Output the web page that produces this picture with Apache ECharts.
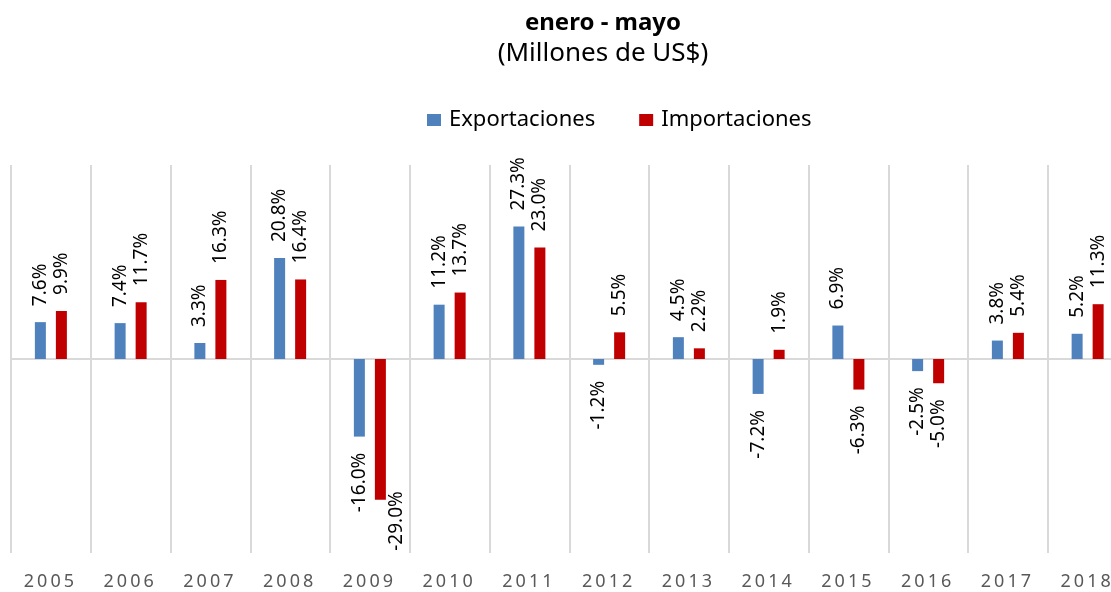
<!DOCTYPE html>
<html>
<head>
<meta charset="utf-8">
<script src="https://cdn.jsdelivr.net/npm/echarts@6/dist/echarts.min.js"></script>
<style>
html,body{margin:0;padding:0;background:#fff;}
#chart{width:1111px;height:592px;}
</style>
</head>
<body>
<div id="chart"></div>
<script>
const categories = ['2005','2006','2007','2008','2009','2010','2011','2012','2013','2014','2015','2016','2017','2018'];
const exportaciones = [7.6, 7.4, 3.3, 20.8, -16.0, 11.2, 27.3, -1.2, 4.5, -7.2, 6.9, -2.5, 3.8, 5.2];
const importaciones = [9.9, 11.7, 16.3, 16.4, -29.0, 13.7, 23.0, 5.5, 2.2, 1.9, -6.3, -5.0, 5.4, 11.3];
const titleText = 'enero - mayo';
const subtitleText = '(Millones de US$)';
const seriesNames = ['Exportaciones', 'Importaciones'];

const FONT = 'Noto Sans';

function toData(arr) {
  return arr.map(v => {
    let label;
    if (v >= 0) {
      label = { position: 'top', align: 'left' };
    } else if (v > -25) {
      label = { position: 'bottom', align: 'right' };
    } else {
      // label would leave the plot: set beside the bar end, as in the reference
      label = { position: ['200%', '94%'], align: 'right' };
    }
    return { value: v, label: label };
  });
}

const labelBase = {
  show: true,
  rotate: 90,
  distance: 16,
  verticalAlign: 'middle',
  fontFamily: FONT,
  fontSize: 19,
  color: '#000',
  formatter: p => p.value.toFixed(1) + '%'
};

const chart = echarts.init(document.getElementById('chart'), null, { renderer: 'canvas' });
chart.setOption({
  backgroundColor: '#fff',
  animation: false,
  title: {
    text: titleText,
    subtext: subtitleText,
    left: 598,
    textAlign: 'center',
    top: 6,
    itemGap: 6,
    textStyle: { fontFamily: FONT, fontSize: 24, fontWeight: 'bold', color: '#000' },
    subtextStyle: { fontFamily: FONT, fontSize: 26, color: '#000' }
  },
  legend: {
    data: seriesNames,
    left: 422,
    top: 104,
    itemWidth: 14,
    itemHeight: 12,
    itemGap: 44,
    icon: 'rect',
    textStyle: { fontFamily: FONT, fontSize: 22, color: '#000', padding: [0, 0, 0, 3] }
  },
  grid: {
    left: 11, width: 1116.5, top: 165, height: 388,
    containLabel: false,
    outerBoundsMode: 'none'
  },
  xAxis: [
    {
      type: 'category',
      data: categories,
      position: 'bottom',
      axisLine: { show: false, onZero: false },
      axisTick: { show: false },
      splitLine: { show: true, lineStyle: { color: '#d9d9d9', width: 2 } },
      axisLabel: {
        fontFamily: FONT, fontSize: 18, color: '#595959', margin: 20,
        padding: [0, 4, 0, 0],
        formatter: v => v.split('').join('\u2006')
      }
    },
    {
      type: 'category',
      data: categories,
      position: 'bottom',
      axisLine: { show: true, onZero: true, lineStyle: { color: '#d9d9d9', width: 2 } },
      axisTick: { show: false },
      axisLabel: { show: false },
      splitLine: { show: false }
    }
  ],
  yAxis: {
    type: 'value',
    min: -40,
    max: 40,
    interval: 40,
    show: true,
    axisLine: { show: false },
    axisTick: { show: false },
    axisLabel: { show: false },
    splitLine: { show: false }
  },
  series: [
    {
      name: seriesNames[0],
      type: 'bar',
      xAxisIndex: 0,
      barWidth: 11,
      barGap: '91%',
      itemStyle: { color: '#4f81bd' },
      label: labelBase,
      data: toData(exportaciones)
    },
    {
      name: seriesNames[1],
      type: 'bar',
      xAxisIndex: 0,
      barWidth: 11,
      barGap: '91%',
      itemStyle: { color: '#c00000' },
      label: labelBase,
      data: toData(importaciones)
    }
  ]
});
</script>
</body>
</html>
